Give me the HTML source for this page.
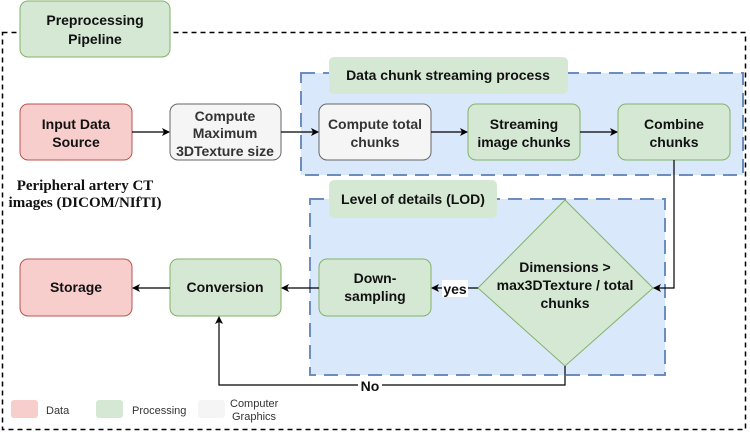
<!DOCTYPE html><html><head><style>body{margin:0;background:#fff}svg text{font-family:"Liberation Sans",sans-serif;font-weight:bold;font-size:14px;fill:#111}</style></head><body>
<svg width="750" height="434" viewBox="0 0 750 434" xmlns="http://www.w3.org/2000/svg">
<defs><marker id="a" markerWidth="8" markerHeight="8" refX="7" refY="4" orient="auto" markerUnits="userSpaceOnUse"><path d="M0,0 L8,4 L0,8 L2,4z" fill="#000"/></marker></defs>
<rect x="2.5" y="32.5" width="743" height="397" fill="none" stroke="#000" stroke-width="1.5" stroke-dasharray="5,4"/>
<rect x="20" y="1" width="150" height="56" rx="8" fill="#d5e8d4" stroke="#82b366"/>
<text x="95" y="25" text-anchor="middle">Preprocessing</text><text x="95" y="44" text-anchor="middle">Pipeline</text>
<rect x="301" y="73" width="442" height="102" fill="#dae8fc" stroke="#6c8ebf" stroke-width="2" stroke-dasharray="14,8"/>
<rect x="329" y="57" width="239" height="37" rx="5" fill="#d5e8d4"/>
<text x="448" y="80" text-anchor="middle">Data chunk streaming process</text>
<rect x="310" y="199" width="355" height="176" fill="#dae8fc" stroke="#6c8ebf" stroke-width="2" stroke-dasharray="14,8"/>
<rect x="329" y="180" width="168" height="38" rx="5" fill="#d5e8d4"/>
<text x="413" y="204" text-anchor="middle">Level of details (LOD)</text>
<rect x="20" y="104" width="112" height="56" rx="8" fill="#f8cecc" stroke="#b85450"/>
<text x="76" y="129" text-anchor="middle">Input Data</text><text x="76" y="147" text-anchor="middle">Source</text>
<rect x="170" y="104" width="111" height="56" rx="8" fill="#f5f5f5" stroke="#666"/>
<text x="225" y="121" text-anchor="middle" fill="#333" style="fill:#333">Compute</text><text x="225" y="138" text-anchor="middle" style="fill:#333">Maximum</text><text x="225" y="156" text-anchor="middle" style="fill:#333">3DTexture size</text>
<rect x="319" y="104" width="112" height="56" rx="8" fill="#f5f5f5" stroke="#666"/>
<text x="375" y="129" text-anchor="middle" style="fill:#333">Compute total</text><text x="375" y="147" text-anchor="middle" style="fill:#333">chunks</text>
<rect x="468" y="104" width="112" height="56" rx="8" fill="#d5e8d4" stroke="#82b366"/>
<text x="524" y="129" text-anchor="middle">Streaming</text><text x="524" y="147" text-anchor="middle">image chunks</text>
<rect x="618" y="104" width="112" height="56" rx="8" fill="#d5e8d4" stroke="#82b366"/>
<text x="674" y="129" text-anchor="middle">Combine</text><text x="674" y="147" text-anchor="middle">chunks</text>
<text x="85" y="190" text-anchor="middle" style="font-family:'Liberation Serif',serif;font-size:15px">Peripheral artery CT</text>
<text x="85" y="207" text-anchor="middle" style="font-family:'Liberation Serif',serif;font-size:15px">images (DICOM/NIfTI)</text>
<polygon points="565,200 653,288 565,366 478,288" fill="#d5e8d4" stroke="#82b366"/>
<text x="565" y="272" text-anchor="middle">Dimensions &gt;</text><text x="565" y="290" text-anchor="middle">max3DTexture / total</text><text x="565" y="308" text-anchor="middle">chunks</text>
<rect x="319" y="259" width="112" height="57" rx="8" fill="#d5e8d4" stroke="#82b366"/>
<text x="375" y="283" text-anchor="middle">Down-</text><text x="375" y="301" text-anchor="middle">sampling</text>
<rect x="170" y="259" width="111" height="57" rx="8" fill="#d5e8d4" stroke="#82b366"/>
<text x="225" y="292" text-anchor="middle">Conversion</text>
<rect x="20" y="259" width="112" height="57" rx="8" fill="#f8cecc" stroke="#b85450"/>
<text x="76" y="292" text-anchor="middle">Storage</text>
<g stroke="#000" stroke-width="1.2" fill="none">
<line x1="132" y1="132" x2="169" y2="132" marker-end="url(#a)"/>
<line x1="281" y1="132" x2="318" y2="132" marker-end="url(#a)"/>
<line x1="431" y1="132" x2="467" y2="132" marker-end="url(#a)"/>
<line x1="580" y1="132" x2="617" y2="132" marker-end="url(#a)"/>
<polyline points="674,160 674,288 654,288" marker-end="url(#a)"/>
<line x1="478" y1="288" x2="432" y2="288" marker-end="url(#a)"/>
<line x1="319" y1="288" x2="282" y2="288" marker-end="url(#a)"/>
<line x1="170" y1="288" x2="133" y2="288" marker-end="url(#a)"/>
<polyline points="565,366 565,385 219,385 219,317" marker-end="url(#a)"/>
</g>
<rect x="442" y="280" width="26" height="17" fill="#fff"/>
<text x="455" y="294" text-anchor="middle">yes</text>
<rect x="358" y="378" width="24" height="16" fill="#fff"/>
<text x="370" y="391" text-anchor="middle">No</text>
<rect x="11" y="400" width="27" height="18" rx="3" fill="#f8cecc"/>
<rect x="96" y="400" width="27" height="18" rx="3" fill="#d5e8d4"/>
<rect x="198" y="400" width="27" height="18" rx="3" fill="#f5f5f5"/>
<g style="font-weight:normal"><text x="46" y="414" style="font-weight:normal;font-size:11px;fill:#333">Data</text>
<text x="132" y="414" style="font-weight:normal;font-size:11px;fill:#333">Processing</text>
<text x="230" y="407" style="font-weight:normal;font-size:11px;fill:#333">Computer</text>
<text x="232" y="420" style="font-weight:normal;font-size:11px;fill:#333">Graphics</text></g>
</svg></body></html>
